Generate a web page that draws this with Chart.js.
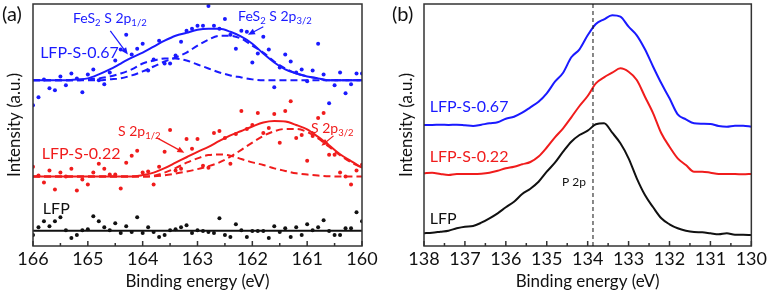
<!DOCTYPE html>
<html>
<head>
<meta charset="UTF-8">
<script src="https://cdn.jsdelivr.net/npm/chart.js"></script>
<style>
  body { margin: 0; background: #fff; }
  #wrap { position: relative; width: 769px; height: 296px; }
  canvas { position: absolute; top: 0; }
</style>
</head>
<body>
<div id="wrap">
  <canvas id="chartA" width="385" height="296" style="left:0"></canvas>
  <canvas id="chartB" width="384" height="296" style="left:385px"></canvas>
</div>
<script>
// ---- panel (a): S 2p, raw points every 0.1 eV, fits every 0.2 eV ----
const energyDots = [166.0,165.9,165.8,165.7,165.6,165.5,165.4,165.3,165.2,165.1,165.0,164.9,164.8,164.7,164.6,164.5,164.4,164.3,164.2,164.1,164.0,163.9,163.8,163.7,163.6,163.5,163.4,163.3,163.2,163.1,163.0,162.9,162.8,162.7,162.6,162.5,162.4,162.3,162.2,162.1,162.0,161.9,161.8,161.7,161.6,161.5,161.4,161.3,161.2,161.1,161.0,160.9,160.8,160.7,160.6,160.5,160.4,160.3,160.2,160.1,160.0];
const s067Dots = [142,150,168,159,157,171,162,174,169,155,173,178,167,163,175,187,198,213,193,199,204,177,188,207,184,184,192,206,217,219,222,222,242,222,219,229,213,199,217,216,185,194,211,198,160,180,193,186,175,178,166,177,204,173,144,162,175,154,163,174,174];
const s022Dots = [80,71,64,76,57,74,70,78,56,67,62,74,83,78,72,72,58,84,91,96,74,75,62,80,95,117,76,78,108,98,108,81,79,114,116,109,83,113,136,118,122,134,114,119,133,104,136,146,109,112,86,111,129,134,92,92,74,70,62,76,82];
const lfpDots  = [11,19,25,20,25,29,16,8,11,16,17,30,25,19,16,23,13,20,14,29,13,19,14,9,11,16,17,19,21,13,16,15,14,13,28,11,9,22,16,9,15,15,15,8,20,14,18,9,19,11,22,16,19,26,15,11,11,18,18,34,25];

const energyFit = [166.0,165.8,165.6,165.4,165.2,165.0,164.8,164.6,164.4,164.2,164.0,163.8,163.6,163.4,163.2,163.0,162.8,162.6,162.4,162.2,162.0,161.8,161.6,161.4,161.2,161.0,160.8,160.6,160.4,160.2,160.0];
const s067Fit = [167,167,167,167,168,169,173,178,184,190,195,201,207,212,215,218,219,219,216,211,204,194,185,178,174,171,169,167,167,167,167];
const s067P12 = [167,167,167,167,167,168,169,171,174,178,184,187,189,189,187,183,179,175,172,170,168,167,167,167,167,167,167,167,167,167,167];
const s067P32 = [167,167,167,167,167,167,167,168,169,172,176,181,186,190,195,202,208,212,212,209,202,195,186,179,174,171,169,167,167,167,167];
const s022Fit = [70,70,70,70,70,70,70,70,70,70,71.5,74,78.5,84,89.5,95,100,106,111.5,116,120.5,124.5,126,125.5,122,117.5,110,101.5,92.5,85.5,79];
const s022P12 = [70,70,70,70,70,70,70,70,70,70,70,70.7,74,78.5,84,88.3,91.7,92.3,91,87.7,84.3,81.7,78.3,75.7,73.3,72,71,70.3,70,70,70];
const s022P32 = [70,70,70,70,70,70,70,70,70,70,70,70.3,71.3,73,75,77.5,80.5,84.3,90,97,104.3,111,115.7,118,118,115,108.5,100,91.5,84.5,79];
const lfpEnds = [166, 160];
const lfpFit = [15.3, 15.3];

// ---- panel (b): P 2p ----
const energyB = [138.0,137.8,137.6,137.4,137.2,137.0,136.8,136.6,136.4,136.2,136.0,135.8,135.6,135.4,135.2,135.0,134.8,134.6,134.4,134.2,134.0,133.8,133.6,133.4,133.2,133.0,132.8,132.6,132.4,132.2,132.0,131.8,131.6,131.4,131.2,131.0,130.8,130.6,130.4,130.2,130.0];
const s067B = [121,121,121.3,121,121.3,120.7,120,121.3,122.7,123.7,127.3,129.3,133.3,138.7,144.3,152.7,164.3,173.3,188.7,196.7,210.7,222,226.7,230.7,229.3,219.3,210.7,196.7,179.3,162.7,147.7,131.7,126.7,122.7,122.3,122,120,119.3,120.3,120.3,119.3];
const s022B = [72.7,73.3,72,71,72,72,72,72.3,73.3,75.3,77.7,79.3,81.7,84,89.5,98.5,108.7,117.7,128.7,140,150,162.7,168.7,173.3,177.7,174.3,166,149.3,132.7,112.7,99.3,87.7,81,74.3,74.3,73.3,72,72,72,71.7,72];
const lfpB  = [12.7,13.3,14.3,15.3,17.7,19.3,20,23.3,27.7,32.7,38.7,44.3,52,57.3,64.3,74.3,83.3,94.3,104.3,111,115.3,121.7,122.7,113.3,102.7,87.7,67.7,51,38.7,27.7,21.7,17.7,15.3,14,13.7,12.7,11.7,12.7,11.3,11.3,11];
const p2pEnergy = 133.87;

const BLUE = '#1a1aff';
const RED = '#f01c1c';
const BLACK = '#111';
const FONT = 'Lato, "Liberation Sans", sans-serif';

Chart.defaults.font.family = FONT;
Chart.defaults.color = '#111';

const xy = (xs, ys) => xs.map((x, i) => ({ x: x, y: ys[i] }));

function dots(data, color) {
  return { data: data, showLine: false, pointRadius: 2, pointBorderWidth: 0,
           pointBackgroundColor: color, backgroundColor: color, borderColor: color };
}
function curve(data, color, dashed, width) {
  return { data: data, borderColor: color, borderWidth: width || 2, pointRadius: 0,
           borderDash: dashed ? [7, 4] : [], cubicInterpolationMode: 'monotone', fill: false };
}

function richText(ctx, parts, x, y, size, color) {
  let cx = x;
  ctx.fillStyle = color;
  ctx.textAlign = 'left';
  ctx.textBaseline = 'alphabetic';
  parts.forEach(p => {
    const sub = p[1];
    ctx.font = (sub ? size * 0.68 : size) + 'px ' + FONT;
    ctx.fillText(p[0], cx, y + (sub ? size * 0.22 : 0));
    cx += ctx.measureText(p[0]).width;
  });
}

function arrow(ctx, x1, y1, x2, y2, color) {
  const a = Math.atan2(y2 - y1, x2 - x1);
  ctx.strokeStyle = color;
  ctx.fillStyle = color;
  ctx.lineWidth = 1.2;
  ctx.beginPath();
  ctx.moveTo(x1, y1);
  ctx.lineTo(x2 - 4 * Math.cos(a), y2 - 4 * Math.sin(a));
  ctx.stroke();
  ctx.beginPath();
  ctx.moveTo(x2, y2);
  ctx.lineTo(x2 - 7 * Math.cos(a) + 3 * Math.sin(a), y2 - 7 * Math.sin(a) - 3 * Math.cos(a));
  ctx.lineTo(x2 - 7 * Math.cos(a) - 3 * Math.sin(a), y2 - 7 * Math.sin(a) + 3 * Math.cos(a));
  ctx.closePath();
  ctx.fill();
}

// frame, inward ticks, labels and arrows
function decor(cfg) {
  return {
    id: 'decor',
    afterDraw(chart) {
      const ctx = chart.ctx;
      const a = chart.chartArea;
      const xs = chart.scales.x, ys = chart.scales.y;
      ctx.save();
      ctx.strokeStyle = '#333';
      ctx.lineWidth = 1.5;
      ctx.setLineDash([]);
      ctx.strokeRect(a.left, a.top, a.right - a.left, a.bottom - a.top);
      for (let v = xs.min; v <= xs.max; v += 0.5) {
        const px = xs.getPixelForValue(v);
        const len = Number.isInteger(v) ? 5 : 3;
        ctx.beginPath();
        ctx.moveTo(px, a.bottom);
        ctx.lineTo(px, a.bottom - len);
        ctx.stroke();
      }
      if (cfg.vline) {
        const px = xs.getPixelForValue(cfg.vline);
        ctx.lineWidth = 1;
        ctx.strokeStyle = '#111';
        ctx.setLineDash([4, 3]);
        ctx.beginPath();
        ctx.moveTo(px, a.top);
        ctx.lineTo(px, a.bottom);
        ctx.stroke();
        ctx.setLineDash([]);
      }
      (cfg.arrows || []).forEach(r => {
        arrow(ctx, xs.getPixelForValue(r[0]), ys.getPixelForValue(r[1]),
              xs.getPixelForValue(r[2]), ys.getPixelForValue(r[3]), r[4]);
      });
      (cfg.labels || []).forEach(l => {
        richText(ctx, l.parts, xs.getPixelForValue(l.e), ys.getPixelForValue(l.v), l.size, l.color);
      });
      richText(ctx, [[cfg.tag]], cfg.tagX, 21, 20, '#111');
      ctx.restore();
    }
  };
}

function makeChart(id, datasets, range, yMax, yWidth, pad, cfg) {
  return new Chart(document.getElementById(id), {
    type: 'line',
    data: { datasets: datasets },
    options: {
      responsive: false,
      animation: false,
      devicePixelRatio: 1,
      layout: { padding: pad },
      plugins: { legend: { display: false }, tooltip: { enabled: false } },
      scales: {
        x: {
          type: 'linear', min: range[0], max: range[1], reverse: true,
          grid: { display: false, drawTicks: false }, border: { display: false },
          ticks: { stepSize: 1, font: { size: 18 }, color: '#111', padding: 2, maxRotation: 0 },
          title: { display: true, text: 'Binding energy (eV)', font: { size: 17 }, color: '#111',
                   padding: { top: 2, bottom: 4 } },
          afterFit: s => { s.height = 50; }
        },
        y: {
          min: 0, max: yMax,
          grid: { display: false, drawTicks: false }, border: { display: false },
          ticks: { display: false },
          title: { display: true, text: 'Intensity (a.u.)', font: { size: 17 }, color: '#111' },
          afterFit: s => { s.width = yWidth; }
        }
      }
    },
    plugins: [decor(cfg)]
  });
}

makeChart('chartA', [
  dots(xy(energyDots, s067Dots), BLUE),
  dots(xy(energyDots, s022Dots), RED),
  dots(xy(energyDots, lfpDots), BLACK),
  curve(xy(energyFit, s067Fit), BLUE, false),
  curve(xy(energyFit, s067P12), BLUE, true),
  curve(xy(energyFit, s067P32), BLUE, true),
  curve(xy(energyFit, s022Fit), RED, false),
  curve(xy(energyFit, s022P12), RED, true),
  curve(xy(energyFit, s022P32), RED, true),
  curve(xy(lfpEnds, lfpFit), BLACK, false)
], [160, 166], 244, 33, { top: 2, right: 23, left: 0, bottom: 0 }, {
  tag: '(a)', tagX: 2,
  labels: [
    { parts: [['FeS'], ['2', 1], [' S 2p'], ['1/2', 1]], e: 165.27, v: 225, size: 14, color: BLUE },
    { parts: [['FeS'], ['2', 1], [' S 2p'], ['3/2', 1]], e: 162.26, v: 227, size: 14, color: BLUE },
    { parts: [['LFP-S-0.67']], e: 165.87, v: 189.5, size: 16, color: BLUE },
    { parts: [['S 2p'], ['1/2', 1]], e: 164.45, v: 111, size: 14, color: RED },
    { parts: [['S 2p'], ['3/2', 1]], e: 160.93, v: 114, size: 14, color: RED },
    { parts: [['LFP-S-0.22']], e: 165.84, v: 88, size: 16, color: RED },
    { parts: [['LFP']], e: 165.82, v: 32, size: 16, color: BLACK }
  ],
  arrows: [
    [164.59, 217, 164.27, 193, BLUE],
    [161.80, 221, 162.08, 213, BLUE],
    [163.74, 109, 163.24, 94, RED],
    [160.52, 111, 160.74, 101, RED]
  ]
});

makeChart('chartB', [
  curve(xy(energyB, s067B), BLUE, false),
  curve(xy(energyB, s022B), RED, false),
  curve(xy(energyB, lfpB), BLACK, false)
], [130, 138], 242, 32, { top: 4, right: 17, left: 7, bottom: 0 }, {
  tag: '(b)', tagX: 7, vline: p2pEnergy,
  labels: [
    { parts: [['LFP-S-0.67']], e: 137.86, v: 134, size: 16, color: BLUE },
    { parts: [['LFP-S-0.22']], e: 137.86, v: 84, size: 16, color: RED },
    { parts: [['LFP']], e: 137.86, v: 22, size: 16, color: BLACK },
    { parts: [['P 2p']], e: 134.63, v: 60, size: 12, color: BLACK }
  ]
});
</script>
</body>
</html>
